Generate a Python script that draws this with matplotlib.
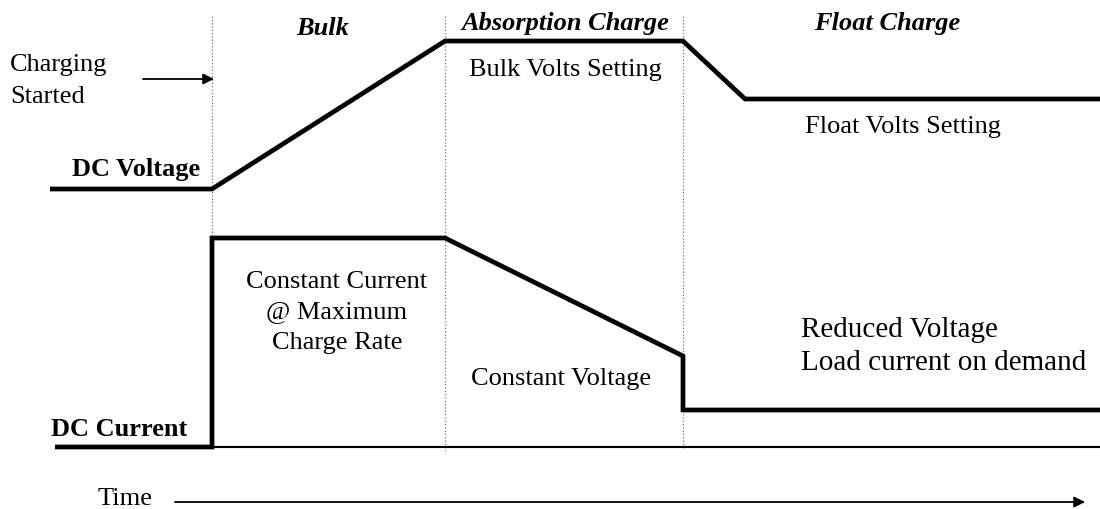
import matplotlib
matplotlib.use('Agg')
import matplotlib.pyplot as plt

# 図は画素座標そのままで描く (x: 0..1100, y: 0..510 下向き)
phase_x = [212, 445, 683]
phase_top = [17, 17, 17]
phase_bottom = [240, 452, 450]
phase_names = ['Bulk', 'Absorption Charge', 'Float Charge']
phase_label_x = [323, 565, 887]
phase_label_base = [35, 30, 30]

volt_x = [50, 212, 445, 683, 745, 1100]
volt_y = [190, 190, 42, 42, 100, 100]

curr_x = [55, 212, 212, 445, 683, 683, 1100]
curr_y = [448, 448, 239, 239, 357, 411, 411]

base_x = [212, 1100]
base_y = [448, 448]

plt.rcParams['font.family'] = ['Liberation Serif', 'DejaVu Serif']

fig = plt.figure(figsize=(11, 5.1), dpi=100)
ax = fig.add_axes([0, 0, 1, 1])
ax.set_xlim(0, 1100)
ax.set_ylim(510, 0)
ax.axis('off')

for x, y0, y1 in zip(phase_x, phase_top, phase_bottom):
    ax.plot([x, x], [y0, y1], ':', color='#777777', linewidth=0.9)

ax.plot(volt_x, volt_y, '-', color='black', linewidth=3.4,
        solid_joinstyle='miter', solid_capstyle='butt')
ax.plot(curr_x, curr_y, '-', color='black', linewidth=3.4,
        solid_joinstyle='miter', solid_capstyle='butt')
ax.plot(base_x, base_y, '-', color='black', linewidth=1.5)

fs = 19
for name, x, yb in zip(phase_names, phase_label_x, phase_label_base):
    ax.text(x, yb, name, ha='center', va='baseline', fontsize=fs,
            fontweight='bold', fontstyle='italic')

ax.text(10, 65, 'Charging', ha='left', va='center', fontsize=fs)
ax.text(10, 97, 'Started', ha='left', va='center', fontsize=fs)
ax.annotate('', xy=(214, 80), xytext=(143, 80),
            arrowprops=dict(arrowstyle='-|>', color='black', lw=1.3,
                            mutation_scale=16, shrinkA=0, shrinkB=0))

ax.text(200, 170, 'DC Voltage', ha='right', va='center', fontsize=fs,
        fontweight='bold')
ax.text(187, 430, 'DC Current', ha='right', va='center', fontsize=fs,
        fontweight='bold')

ax.text(565, 70, 'Bulk Volts Setting', ha='center', va='center', fontsize=fs)
ax.text(903, 127, 'Float Volts Setting', ha='center', va='center', fontsize=fs)

ax.text(337, 282, 'Constant Current', ha='center', va='center', fontsize=fs)
ax.text(337, 312, '@ Maximum', ha='center', va='center', fontsize=fs)
ax.text(337, 343, 'Charge Rate', ha='center', va='center', fontsize=fs)

ax.text(561, 379, 'Constant Voltage', ha='center', va='center', fontsize=fs)

ax.text(801, 330, 'Reduced Voltage', ha='left', va='center', fontsize=fs + 2)
ax.text(801, 363, 'Load current on demand', ha='left', va='center',
        fontsize=fs + 2)

ax.text(98, 505, 'Time', ha='left', va='baseline', fontsize=fs)
ax.annotate('', xy=(1085, 503), xytext=(175, 503),
            arrowprops=dict(arrowstyle='-|>', color='black', lw=1.3,
                            mutation_scale=16, shrinkA=0, shrinkB=0))

fig.savefig('out.png', dpi=100)
